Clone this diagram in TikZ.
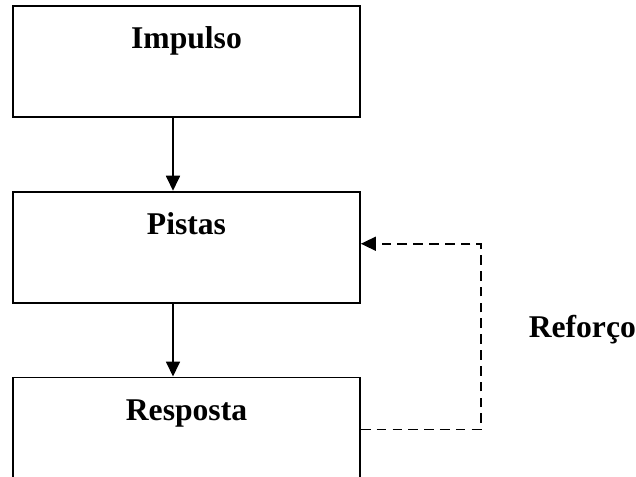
\documentclass[tikz,border=0pt]{standalone}
\usepackage{fontspec}
\setmainfont{Liberation Serif}
\usepackage{tikz}
\usetikzlibrary{positioning,arrows.meta}

\begin{document}
\begin{tikzpicture}[node distance=1.46cm,>={Triangle[length=0.3cm,width=0.28cm]},line width=1pt,
  every node/.style={font=\fontsize{18}{22}\selectfont\bfseries},
  stage/.style={draw,rectangle,inner sep=0pt,minimum width=6.94cm,
    text height=0.86cm,text depth=1.36cm,text width=6.94cm,align=center}]
  \clip (0,0) rectangle (12.72,-9.54);
  \useasboundingbox (0,0) rectangle (12.72,-9.54);
  \node[stage,anchor=north] (imp) at (3.73,-0.1) {Impulso};
  \node[stage,below=of imp] (pis) {Pistas};
  \node[stage,below=of pis] (res) {Resposta};
  \coordinate[right=2.4cm of pis.east] (turn);

  \draw[->] ([xshift=-0.27cm]imp.south) -- ([xshift=-0.27cm]pis.north);
  \draw[->] ([xshift=-0.27cm]pis.south) -- ([xshift=-0.27cm]res.north);
  \draw[->,dash pattern=on 5.5pt off 3.5pt,line width=0.9pt] ([yshift=-1.06cm]res.north east) -- ++(2.4,0) |- ([yshift=-1.06cm]pis.north east);
  \node[inner sep=0pt,right=0.94cm of turn,yshift=-1.65cm] (ref) {Reforço};
\end{tikzpicture}
\end{document}
